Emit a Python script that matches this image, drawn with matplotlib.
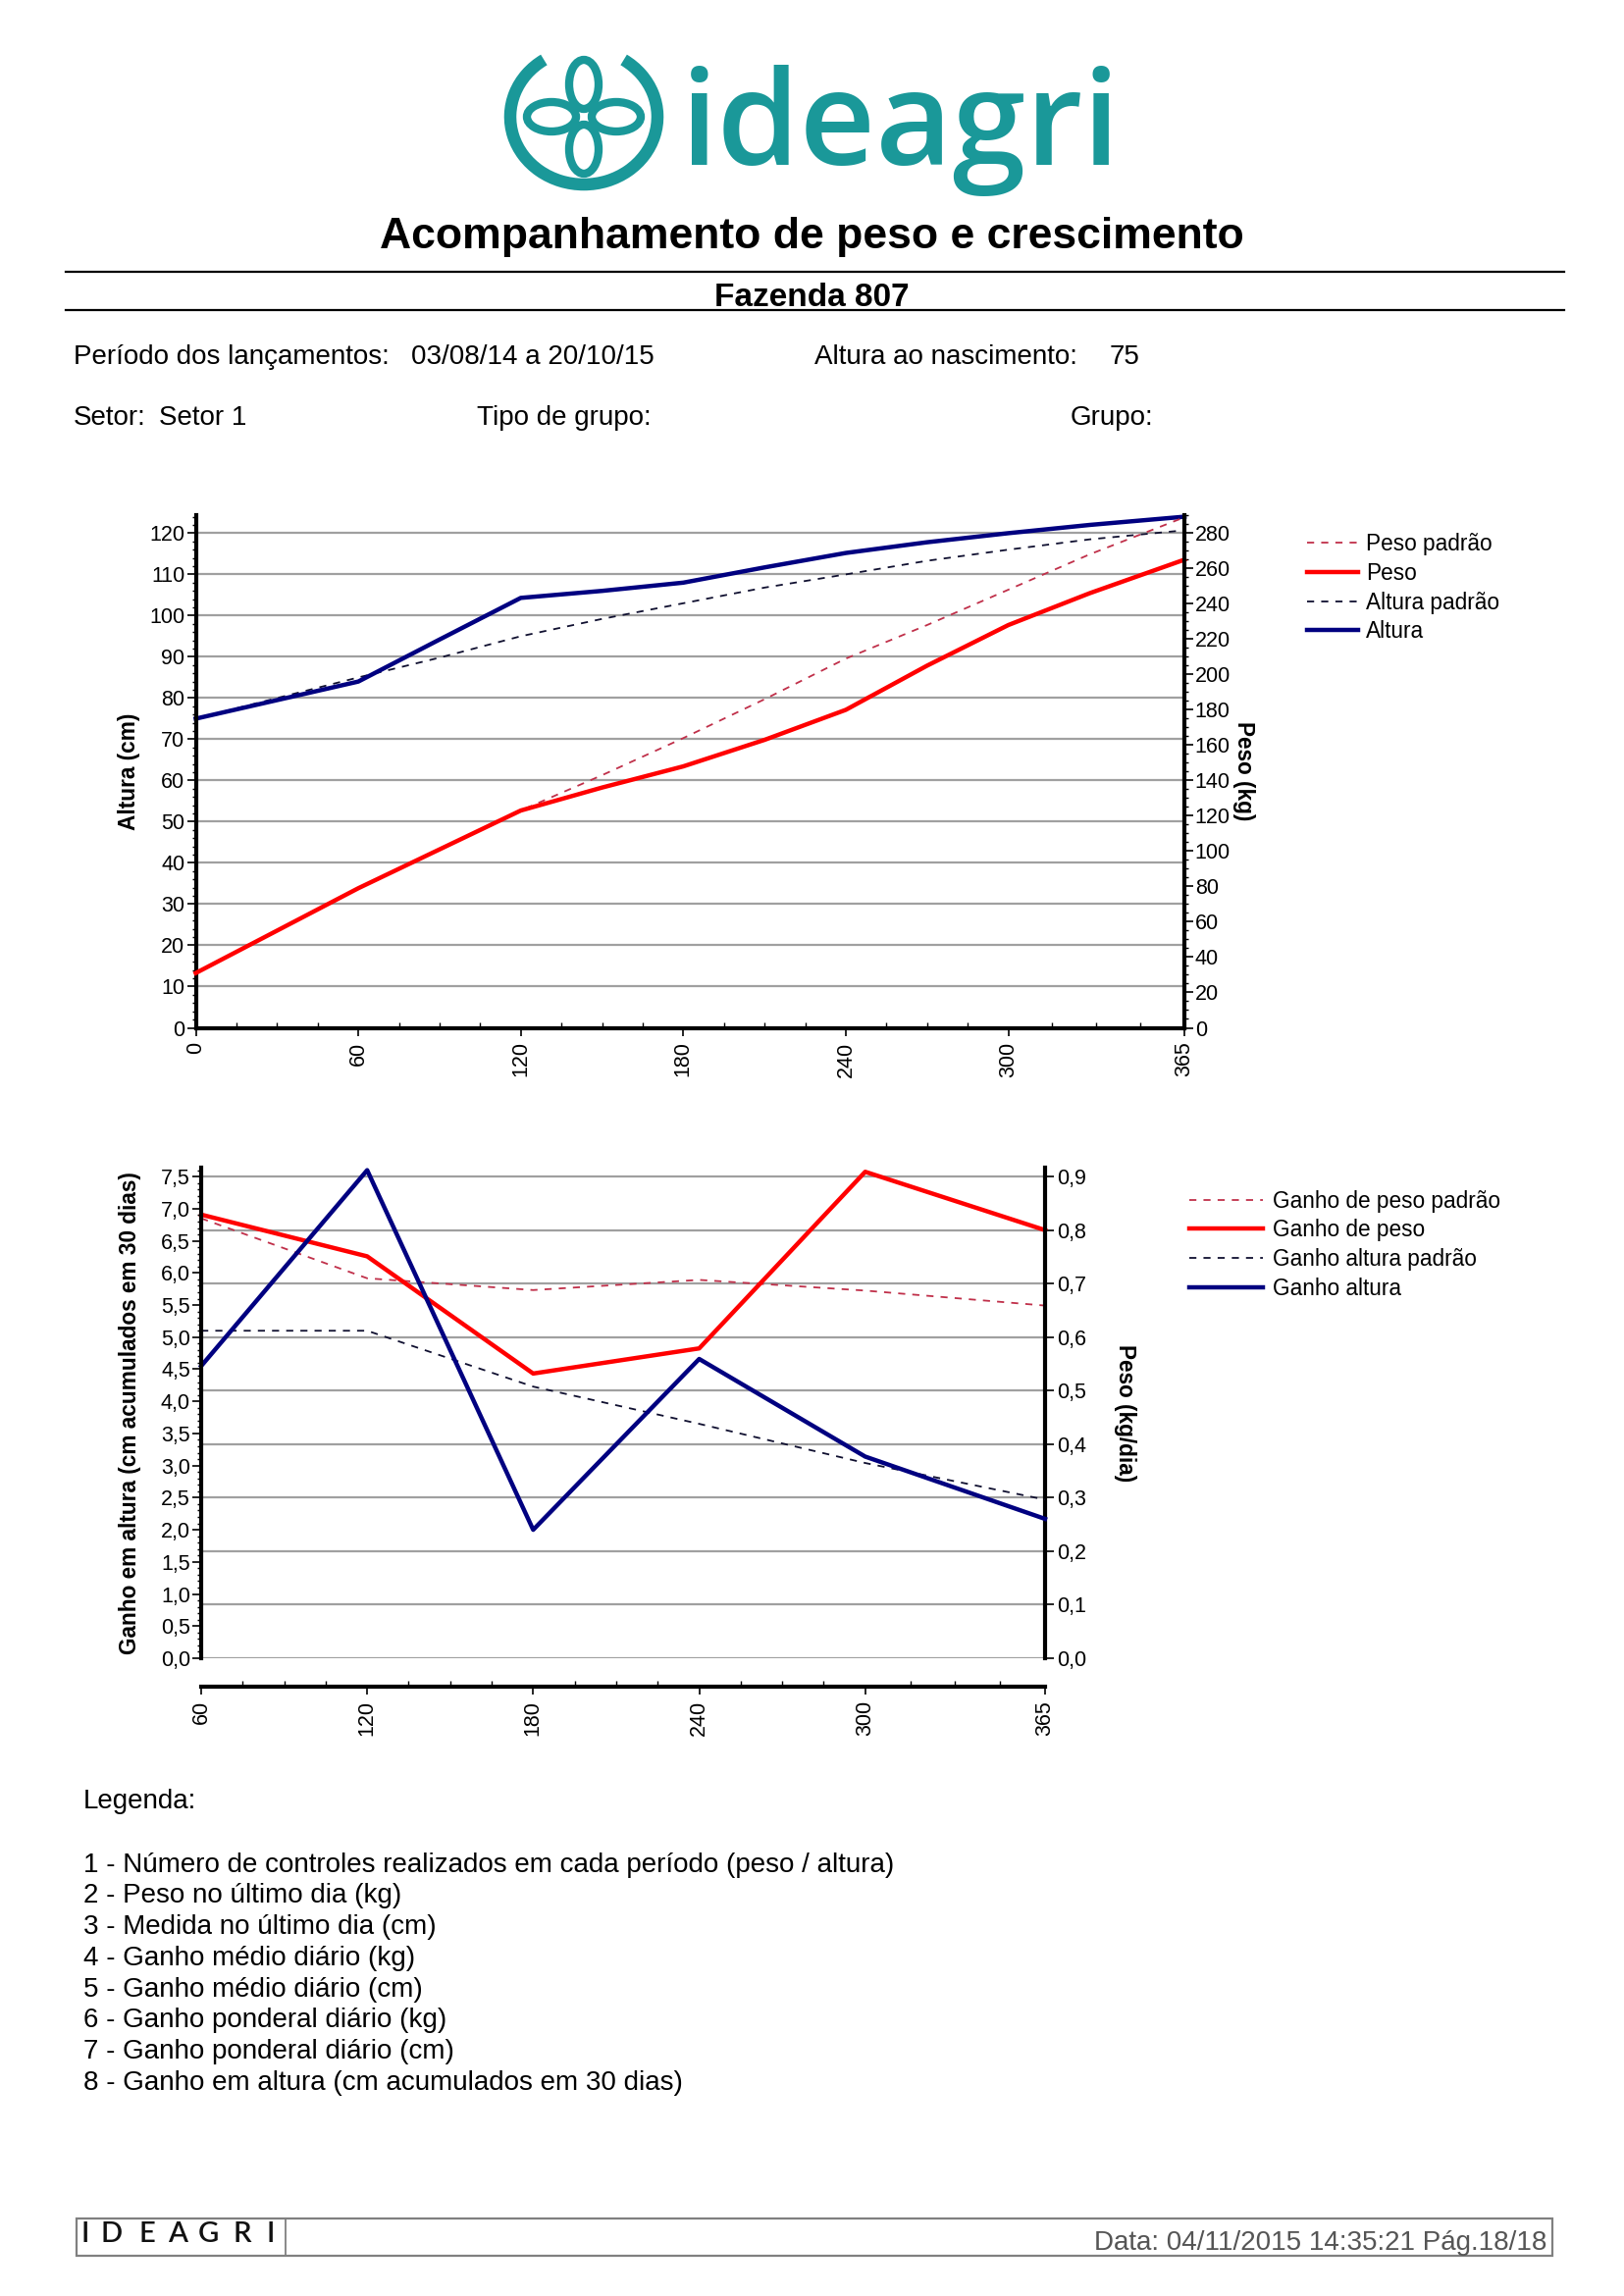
import numpy as np
import matplotlib
matplotlib.use('Agg')
import matplotlib.pyplot as plt
from matplotlib.patches import Arc, Ellipse, Rectangle
from matplotlib.ticker import MultipleLocator, FixedLocator, FuncFormatter

plt.rcParams['font.family'] = ['Liberation Sans', 'DejaVu Sans']

W, H = 1655, 2340

# grafico 1 - peso e altura por idade (dias)
dias = [0, 30, 60, 90, 120, 150, 180, 210, 240, 270, 300, 330, 365]
altura = [75, 79.5, 84, 94.2, 104.3, 106, 108, 111.7, 115.2, 117.8, 120, 122, 124]
altura_padrao = [75, 80, 85, 89.8, 95, 99.2, 103, 106.8, 110, 113.3, 116, 118.5, 120.7]
peso = [31, 55, 79, 101, 123, 136, 148, 163, 180, 205, 228, 246, 265]
peso_padrao = [31, 55, 79, 101, 123, 143, 164, 186, 209, 228, 248, 268, 289]
dias_ticks = [0, 60, 120, 180, 240, 300, 365]

# grafico 2 - ganhos
dias_ganho = [60, 120, 180, 240, 300, 365]
ganho_altura = [4.55, 7.6, 2.0, 4.66, 3.14, 2.17]
ganho_altura_padrao = [5.1, 5.1, 4.23, 3.65, 3.04, 2.47]
ganho_peso = [0.829, 0.751, 0.532, 0.579, 0.909, 0.80]
ganho_peso_padrao = [0.822, 0.71, 0.688, 0.707, 0.687, 0.659]

legenda_itens = [
    '1 - Número de controles realizados em cada período (peso / altura)',
    '2 - Peso no último dia (kg)',
    '3 - Medida no último dia (cm)',
    '4 - Ganho médio diário (kg)',
    '5 - Ganho médio diário (cm)',
    '6 - Ganho ponderal diário (kg)',
    '7 - Ganho ponderal diário (cm)',
    '8 - Ganho em altura (cm acumulados em 30 dias)',
]

RED = '#ff0000'
RED_STD = '#c0304a'
BLUE = '#000080'
DARK = '#101030'
GRID = '#a0a0a0'
TEAL = '#1a9899'


def fx(x):
    return x / W


def fy(y):
    return 1 - y / H


def quarter_ticks(ticks):
    out = []
    for a, b in zip(ticks[:-1], ticks[1:]):
        out += [a + (b - a) * k / 4 for k in (1, 2, 3)]
    return out


fig = plt.figure(figsize=(W / 100, H / 100), dpi=100)

# pagina (logo, linhas, rodape) em coordenadas de pixel
ov = fig.add_axes([0, 0, 1, 1])
ov.set_xlim(0, W)
ov.set_ylim(H, 0)
ov.axis('off')

# logo
cx, cy = 595, 119
ov.add_patch(Arc((cx, cy), 150, 138, theta1=-55, theta2=235, lw=9, color=TEAL))
for dx, dy, w, h in [(0, -33, 30, 50), (0, 33, 30, 50), (-33, 0, 50, 30), (33, 0, 50, 30)]:
    ov.add_patch(Ellipse((cx + dx, cy + dy), w, h, fill=False, lw=6, ec=TEAL))
ov.text(694, 168, 'ideagri', fontsize=97, fontweight='semibold', color=TEAL,
        family=['Open Sans', 'DejaVu Sans'], ha='left', va='baseline')

ov.text(W / 2, 242, 'Acompanhamento de peso e crescimento', fontsize=32,
        fontweight='bold', ha='center', va='center')
ov.plot([67, 1594], [277, 277], color='black', lw=1.6)
ov.plot([67, 1594], [316, 316], color='black', lw=1.6)
ov.text(W / 2, 304, 'Fazenda 807', fontsize=24, fontweight='bold', ha='center', va='center')

info = 20
ov.text(75, 364, 'Período dos lançamentos:', fontsize=info, va='center')
ov.text(419, 364, '03/08/14 a 20/10/15', fontsize=info, va='center')
ov.text(830, 364, 'Altura ao nascimento:', fontsize=info, va='center')
ov.text(1131, 364, '75', fontsize=info, va='center')
ov.text(75, 426, 'Setor:', fontsize=info, va='center')
ov.text(162, 426, 'Setor 1', fontsize=info, va='center')
ov.text(486, 426, 'Tipo de grupo:', fontsize=info, va='center')
ov.text(1091, 426, 'Grupo:', fontsize=info, va='center')

ov.text(85, 1843, 'Legenda:', fontsize=info, va='baseline')
for i, item in enumerate(legenda_itens):
    ov.text(85, 1907.5 + i * 31.8, item, fontsize=info, va='baseline')

# rodape
ov.add_patch(Rectangle((78, 2261), 1504, 38, fill=False, ec='#808080', lw=1.6))
ov.plot([291, 291], [2261, 2299], color='#808080', lw=1.3)
for letra, xl in zip('IDEAGRI', [87, 114, 150, 181, 212.5, 246.5, 275.5]):
    ov.text(xl, 2285, letra, fontsize=21, fontweight='semibold', ha='center', va='baseline',
            color='#111111', family=['Lato', 'DejaVu Sans'])
ov.text(1576, 2293, 'Data: 04/11/2015 14:35:21 Pág.18/18', fontsize=20,
        ha='right', va='baseline', color='#555555')

tick_fs = 15.5
lab_fs = 16.3


def style_spines(ax, visible):
    for s in ['left', 'right', 'top', 'bottom']:
        ax.spines[s].set_visible(s in visible)
        ax.spines[s].set_linewidth(3)
        ax.spines[s].set_color('black')


# ---------------- grafico 1 ----------------
ax1 = fig.add_axes([fx(199.5), fy(1047.5), (1207 - 199.5) / W, (1047.5 - 524.5) / H])
ax1b = ax1.twinx()
style_spines(ax1, ['left', 'bottom'])
style_spines(ax1b, ['right'])

ax1.set_xlim(0, 365)
ax1.set_ylim(0, 124.5)
ax1b.set_ylim(0, 124.5 * 280 / 120)

ax1.yaxis.set_major_locator(MultipleLocator(10))
ax1.yaxis.set_minor_locator(MultipleLocator(2))
ax1b.yaxis.set_major_locator(MultipleLocator(20))
ax1b.yaxis.set_minor_locator(MultipleLocator(5))
ax1.xaxis.set_major_locator(FixedLocator(dias_ticks))
ax1.xaxis.set_minor_locator(FixedLocator(quarter_ticks(dias_ticks)))
ax1.set_xticklabels([str(d) for d in dias_ticks], rotation=90)

ax1.yaxis.grid(True, color=GRID, lw=1.6)
ax1.set_axisbelow(True)

ax1.tick_params(axis='y', which='major', length=6.5, width=1.2, pad=1.5, labelsize=tick_fs)
ax1.tick_params(axis='y', which='minor', length=3, width=1)
ax1b.tick_params(axis='y', which='major', length=6.5, width=1.2, pad=1.2, labelsize=tick_fs)
ax1b.tick_params(axis='y', which='minor', length=3, width=1)
ax1.tick_params(axis='x', which='major', length=6, width=1.2, pad=4, labelsize=tick_fs)
ax1.tick_params(axis='x', which='minor', length=4, width=1, direction='in')

l_pp, = ax1b.plot(dias, peso_padrao, color=RED_STD, lw=1.3, ls=(0, (4, 4)), label='Peso padrão')
l_p, = ax1b.plot(dias, peso, color=RED, lw=3.2, label='Peso')
l_ap, = ax1.plot(dias, altura_padrao, color=DARK, lw=1.3, ls=(0, (4, 4)), label='Altura padrão')
l_a, = ax1.plot(dias, altura, color=BLUE, lw=3.2, label='Altura')
for l in (l_pp, l_p, l_ap, l_a):
    l.set_clip_on(False)

ax1.set_ylabel('Altura (cm)', fontsize=lab_fs, fontweight='bold', labelpad=7)
ax1b.set_ylabel('Peso (kg)', fontsize=lab_fs, fontweight='bold', rotation=-90, labelpad=18)

fig.legend(handles=[l_pp, l_p, l_ap, l_a], loc='upper left',
           bbox_to_anchor=(fx(1332), fy(543)), bbox_transform=fig.transFigure,
           frameon=False, fontsize=lab_fs, handlelength=2.3, handletextpad=0.35,
           labelspacing=0.3, borderpad=0, borderaxespad=0)

# ---------------- grafico 2 ----------------
ax2 = fig.add_axes([fx(205), fy(1690), (1065 - 205) / W, (1690 - 1190) / H])
ax2b = ax2.twinx()
# ax2 = escala kg/dia (direita, com grade), ax2b = escala cm (esquerda)
ax2.yaxis.tick_right()
ax2.yaxis.set_label_position('right')
ax2b.yaxis.tick_left()
ax2b.yaxis.set_label_position('left')
style_spines(ax2, ['right', 'bottom'])
style_spines(ax2b, ['left'])
ax2.spines['bottom'].set_position(('outward', 29 * 0.72))

ax2.set_xlim(60, 365)
ax2.set_ylim(0, 7.64 * 0.12)
ax2b.set_ylim(0, 7.64)

dec = FuncFormatter(lambda v, p: f'{v:.1f}'.replace('.', ','))
ax2.yaxis.set_major_locator(MultipleLocator(0.1))
ax2.yaxis.set_major_formatter(dec)
ax2b.yaxis.set_major_locator(MultipleLocator(0.5))
ax2b.yaxis.set_minor_locator(MultipleLocator(0.1))
ax2b.yaxis.set_major_formatter(dec)
ax2.xaxis.set_major_locator(FixedLocator(dias_ganho))
ax2.xaxis.set_minor_locator(FixedLocator(quarter_ticks(dias_ganho)))
ax2.set_xticklabels([str(d) for d in dias_ganho], rotation=90)

ax2.yaxis.grid(True, color=GRID, lw=1.6)
ax2.set_axisbelow(True)

ax2.tick_params(axis='y', which='major', length=6.5, width=1.2, pad=2, labelsize=tick_fs)
ax2b.tick_params(axis='y', which='major', length=6.5, width=1.2, pad=1.5, labelsize=tick_fs)
ax2b.tick_params(axis='y', which='minor', length=3, width=1)
ax2.tick_params(axis='x', which='major', length=6, width=1.2, pad=4, labelsize=tick_fs)
ax2.tick_params(axis='x', which='minor', length=4, width=1, direction='in')

g_pp, = ax2.plot(dias_ganho, ganho_peso_padrao, color=RED_STD, lw=1.3, ls=(0, (4, 4)),
                 label='Ganho de peso padrão')
g_p, = ax2.plot(dias_ganho, ganho_peso, color=RED, lw=3.2, label='Ganho de peso')
g_ap, = ax2b.plot(dias_ganho, ganho_altura_padrao, color=DARK, lw=1.3, ls=(0, (4, 4)),
                  label='Ganho altura padrão')
g_a, = ax2b.plot(dias_ganho, ganho_altura, color=BLUE, lw=3.2, label='Ganho altura')
for l in (g_pp, g_p, g_ap, g_a):
    l.set_clip_on(False)

ax2b.set_ylabel('Ganho em altura (cm acumulados em 30 dias)', fontsize=lab_fs,
                fontweight='bold', labelpad=14)
ax2.set_ylabel('Peso (kg/dia)', fontsize=lab_fs, fontweight='bold', rotation=-90, labelpad=37)

fig.legend(handles=[g_pp, g_p, g_ap, g_a], loc='upper left',
           bbox_to_anchor=(fx(1212), fy(1212.5)), bbox_transform=fig.transFigure,
           frameon=False, fontsize=lab_fs, handlelength=3.3, handletextpad=0.45,
           labelspacing=0.3, borderpad=0, borderaxespad=0)

fig.savefig('out.png', dpi=100)
